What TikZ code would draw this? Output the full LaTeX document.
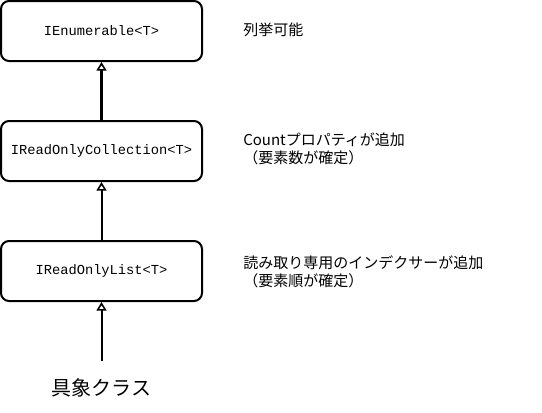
\documentclass[tikz,border=0pt]{standalone}
\usepackage{fontspec}
\setmonofont{Liberation Mono}
\newfontfamily\jp{Noto Sans CJK JP}
\usetikzlibrary{arrows.meta}
\begin{document}
\begin{tikzpicture}[x=0.75pt,y=-0.75pt,
  ibox/.style={draw=black,line width=1.5pt,rounded corners=6pt,fill=white,minimum width=150.75pt,minimum height=45pt,inner sep=0pt,font=\ttfamily\fontsize{10.3pt}{12pt}\selectfont},
  inh/.style={line width=1.5pt,-{Triangle[open,width=7.5pt,length=6.5pt,line width=1.2pt]}},
  note/.style={anchor=north west,align=left,inner sep=0pt,font=\jp\fontsize{11.25pt}{13.5pt}\selectfont}]
\useasboundingbox (0,0) rectangle (542,412);
\node[ibox] (a) at (101.5,31) {IEnumerable<T>};
\node[ibox] (b) at (101.5,151) {IReadOnlyCollection<T>};
\node[ibox] (c) at (101.5,271) {IReadOnlyList<T>};
\node[font=\jp\fontsize{15pt}{18pt}\selectfont] (d) at (101.5,388) {具象クラス};
\coordinate (dt) at (101.5,361);
\draw[inh,line width=2.2pt] (b.north) -- (a.south);
\draw[inh] (c.north) -- (b.south);
\draw[inh] (dt) -- (c.south);
\node[note] (na) at (243,23) {列挙可能};
\node[note] (nb) at (243,133) {Countプロパティが追加\\（要素数が確定）};
\node[note] (nc) at (243,255) {読み取り専用のインデクサーが追加\\（要素順が確定）};
\end{tikzpicture}
\end{document}
